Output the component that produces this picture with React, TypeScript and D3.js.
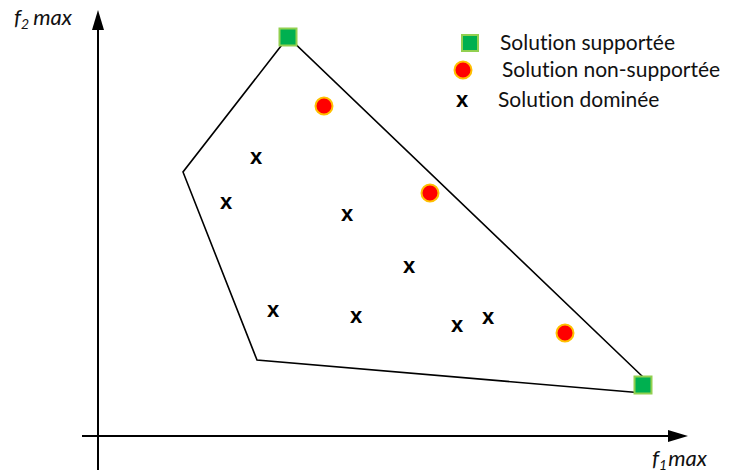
import React from "react";
import * as d3 from "d3";

// Data in objective-space units (f1 to the right, f2 upward)
const supported: [number, number][] = [
  [190, 399],
  [545, 51],
];
const nonSupported: [number, number][] = [
  [226, 330],
  [332, 243],
  [467, 103],
];
const dominated: [number, number][] = [
  [158, 278],
  [128, 233],
  [249, 221],
  [311, 169],
  [175, 125],
  [258, 119],
  [359, 110],
  [390, 118],
];
const hull: [number, number][] = [
  [545, 59],
  [190, 399],
  [85, 264],
  [159, 76],
  [545, 43],
];
const legendLabels = ["Solution supportée", "Solution non-supportée", "Solution dominée"];

const W = 731;
const H = 475;
const FONT = "Lato, 'Open Sans', sans-serif";

export default function App() {
  const x = d3.scaleLinear().domain([0, 590]).range([98, 688]);
  const y = d3.scaleLinear().domain([0, 426]).range([436, 10]);
  const line = d3
    .line<[number, number]>()
    .x((d) => x(d[0]))
    .y((d) => y(d[1]));

  const x0 = x(0);
  const y0 = y(0);
  const sq = 17;

  return (
    <svg
      width={W}
      height={H}
      style={{ position: "absolute", left: 0, top: 0, background: "#fff", fontVariantLigatures: "none" }}
      fontFamily={FONT}
    >
      {/* axes */}
      <line x1={x0} y1={470} x2={x0} y2={y(410)} stroke="#000" strokeWidth={2} />
      <path d={`M${x0},${y(426)} L${x0 - 6},${y(406)} L${x0 + 6},${y(406)} Z`} fill="#000" />
      <line x1={82} y1={y0} x2={x(575)} y2={y0} stroke="#000" strokeWidth={2} />
      <path d={`M${x(590)},${y0} L${x(570)},${y0 - 6} L${x(570)},${y0 + 6} Z`} fill="#000" />

      {/* axis labels */}
      <text x={14} y={25} fontSize={22} fontStyle="italic" fill="#111">
        f<tspan fontSize={14} dy={4}>2</tspan>
        <tspan dy={-4} dx={4}>max</tspan>
      </text>
      <text x={652} y={466} fontSize={22} fontStyle="italic" fill="#111">
        f<tspan fontSize={14} dy={4}>1</tspan>
        <tspan dy={-4} dx={1}>max</tspan>
      </text>

      {/* hull */}
      <path d={line(hull) || ""} fill="none" stroke="#000" strokeWidth={1.6} />

      {/* dominated */}
      {dominated.map((d, i) => (
        <text
          key={"d" + i}
          x={x(d[0])}
          y={y(d[1]) - 2}
          fontSize={22}
          fontWeight="bold"
          textAnchor="middle"
          dominantBaseline="central"
          fontFamily="'Liberation Sans', Arial, sans-serif"
        >
          x
        </text>
      ))}

      {/* non supported */}
      {nonSupported.map((d, i) => (
        <circle
          key={"n" + i}
          cx={x(d[0])}
          cy={y(d[1])}
          r={8.5}
          fill="#FF0000"
          stroke="#FFC000"
          strokeWidth={2}
        />
      ))}

      {/* supported */}
      {supported.map((d, i) => (
        <rect
          key={"s" + i}
          x={x(d[0]) - sq / 2}
          y={y(d[1]) - sq / 2}
          width={sq}
          height={sq}
          fill="#00B050"
          stroke="#92D050"
          strokeWidth={2}
        />
      ))}

      {/* legend */}
      <rect x={470 - 8} y={43 - 8} width={16} height={16} fill="#00B050" stroke="#92D050" strokeWidth={2} />
      <circle cx={463} cy={70} r={8.5} fill="#FF0000" stroke="#FFC000" strokeWidth={2} />
      <text
        x={462}
        y={99}
        fontSize={22}
        fontWeight="bold"
        textAnchor="middle"
        dominantBaseline="central"
        fontFamily="'Liberation Sans', Arial, sans-serif"
      >
        x
      </text>
      {legendLabels.map((t, i) => (
        <text
          key={t}
          x={[500, 502, 498][i]}
          y={[50, 77, 107][i]}
          fontSize={21}
          fill="#111"
        >
          {t}
        </text>
      ))}
    </svg>
  );
}
